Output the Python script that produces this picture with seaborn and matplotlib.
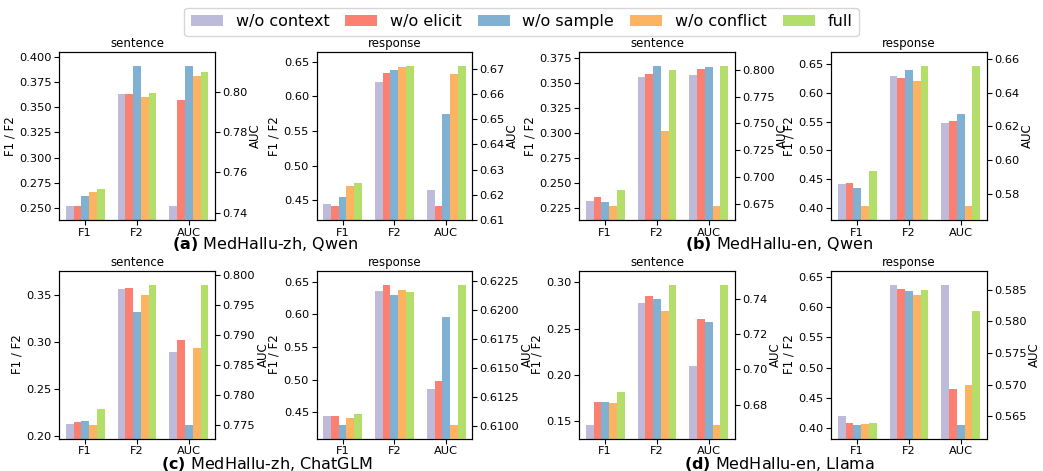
import pandas as pd
import matplotlib
matplotlib.use("Agg")
import matplotlib.pyplot as plt
from matplotlib.patches import Patch
import seaborn as sns

VARIANTS = ["w/o context", "w/o elicit", "w/o sample", "w/o conflict", "full"]
METRICS = ["F1", "F2", "AUC"]
COLORS = sns.color_palette("Set3")[2:7]

# rows: F1, F2, AUC  -- columns follow VARIANTS
zh_qwen_sentence = [[0.2522, 0.2522, 0.2620, 0.2660, 0.2687],
                    [0.3627, 0.3627, 0.3910, 0.3600, 0.3640],
                    [0.7433, 0.7960, 0.8128, 0.8078, 0.8098]]
zh_qwen_response = [[0.4447, 0.4418, 0.4547, 0.4705, 0.4748],
                    [0.6210, 0.6340, 0.6380, 0.6424, 0.6439],
                    [0.6218, 0.6155, 0.6520, 0.6682, 0.6713]]
en_qwen_sentence = [[0.2317, 0.2357, 0.2307, 0.2267, 0.2427],
                    [0.3557, 0.3590, 0.3667, 0.3017, 0.3627],
                    [0.7953, 0.8009, 0.8028, 0.6727, 0.8037]]
en_qwen_response = [[0.4415, 0.4432, 0.4345, 0.4030, 0.4641],
                    [0.6296, 0.6261, 0.6400, 0.6209, 0.6470],
                    [0.6222, 0.6233, 0.6275, 0.5727, 0.6560]]
zh_glm_sentence = [[0.2128, 0.2146, 0.2160, 0.2118, 0.2285],
                   [0.3564, 0.3575, 0.3319, 0.3504, 0.3610],
                   [0.7872, 0.7891, 0.7751, 0.7879, 0.7984]]
zh_glm_response = [[0.4439, 0.4439, 0.4311, 0.4418, 0.4469],
                   [0.6362, 0.6459, 0.6301, 0.6378, 0.6347],
                   [0.6132, 0.6139, 0.6194, 0.6101, 0.6222]]
en_llama_sentence = [[0.1461, 0.1710, 0.1710, 0.1699, 0.1818],
                     [0.2780, 0.2856, 0.2823, 0.2694, 0.2975],
                     [0.7022, 0.7283, 0.7271, 0.6687, 0.7481]]
en_llama_response = [[0.4209, 0.4093, 0.4060, 0.4077, 0.4093],
                     [0.6368, 0.6302, 0.6269, 0.6203, 0.6286],
                     [0.5858, 0.5694, 0.5637, 0.5699, 0.5817]]

PANELS = [(zh_qwen_sentence, "sentence"), (zh_qwen_response, "response"),
          (en_qwen_sentence, "sentence"), (en_qwen_response, "response"),
          (zh_glm_sentence, "sentence"), (zh_glm_response, "response"),
          (en_llama_sentence, "sentence"), (en_llama_response, "response")]

CAPTIONS = [("(a)", "MedHallu-zh, Qwen"), ("(b)", "MedHallu-en, Qwen"),
            ("(c)", "MedHallu-zh, ChatGLM"), ("(d)", "MedHallu-en, Llama")]


def to_frame(scores):
    rows = []
    for metric, values in zip(METRICS, scores):
        for variant, value in zip(VARIANTS, values):
            rows.append({"metric": metric, "variant": variant, "value": value})
    return pd.DataFrame(rows)


def padded_limits(values, pad=0.1):
    lo, hi = min(values), max(values)
    span = hi - lo
    return lo - pad * span, hi + pad * span


def draw_bars(data, ax):
    sns.barplot(data=data, x="metric", y="value", hue="variant",
                order=METRICS, hue_order=VARIANTS, palette=COLORS,
                width=0.75, saturation=1, errorbar=None, legend=False, ax=ax)
    ax.set_xlabel("")


def plot_panel(fig, rect, scores, title):
    df = to_frame(scores)
    left = df[df["metric"] != "AUC"]
    right = df[df["metric"] == "AUC"]

    ax = fig.add_axes(rect)
    draw_bars(left, ax)
    ax.set_ylim(*padded_limits(left["value"]))
    ax.set_ylabel("F1 / F2", labelpad=2)
    ax.set_title(title, fontsize=8.5, pad=3.5)

    twin = ax.twinx()
    draw_bars(right, twin)
    twin.set_ylim(*padded_limits(right["value"]))
    twin.set_ylabel("AUC", labelpad=1)
    return ax


plt.rcParams["font.size"] = 8.5
plt.rcParams["xtick.labelsize"] = 8.2
plt.rcParams["ytick.labelsize"] = 8.2
plt.rcParams["xtick.major.pad"] = 2
plt.rcParams["ytick.major.pad"] = 2

fig = plt.figure(figsize=(10.43, 4.71), dpi=100)
lefts = [0.0569, 0.3036, 0.5554, 0.797]
bottoms = [0.5329, 0.0686]
for i, (scores, title) in enumerate(PANELS):
    rect = [lefts[i % 4], bottoms[i // 4], 0.149, 0.357]
    plot_panel(fig, rect, scores, title)

caption_pos = [(0.254, 0.481), (0.747, 0.481), (0.256, 0.015), (0.747, 0.015)]
for (tag, name), (x, y) in zip(CAPTIONS, caption_pos):
    fig.text(x, y, r"$\bf{" + tag + "}$ " + name, ha="center", va="center", fontsize=11.5)

handles = [Patch(facecolor=c, label=v) for c, v in zip(COLORS, VARIANTS)]
fig.legend(handles=handles, loc="upper center", bbox_to_anchor=(0.5, 1.0),
           ncol=5, fontsize=11.5, frameon=True, columnspacing=1.0)

fig.savefig("out.png", dpi=100)
